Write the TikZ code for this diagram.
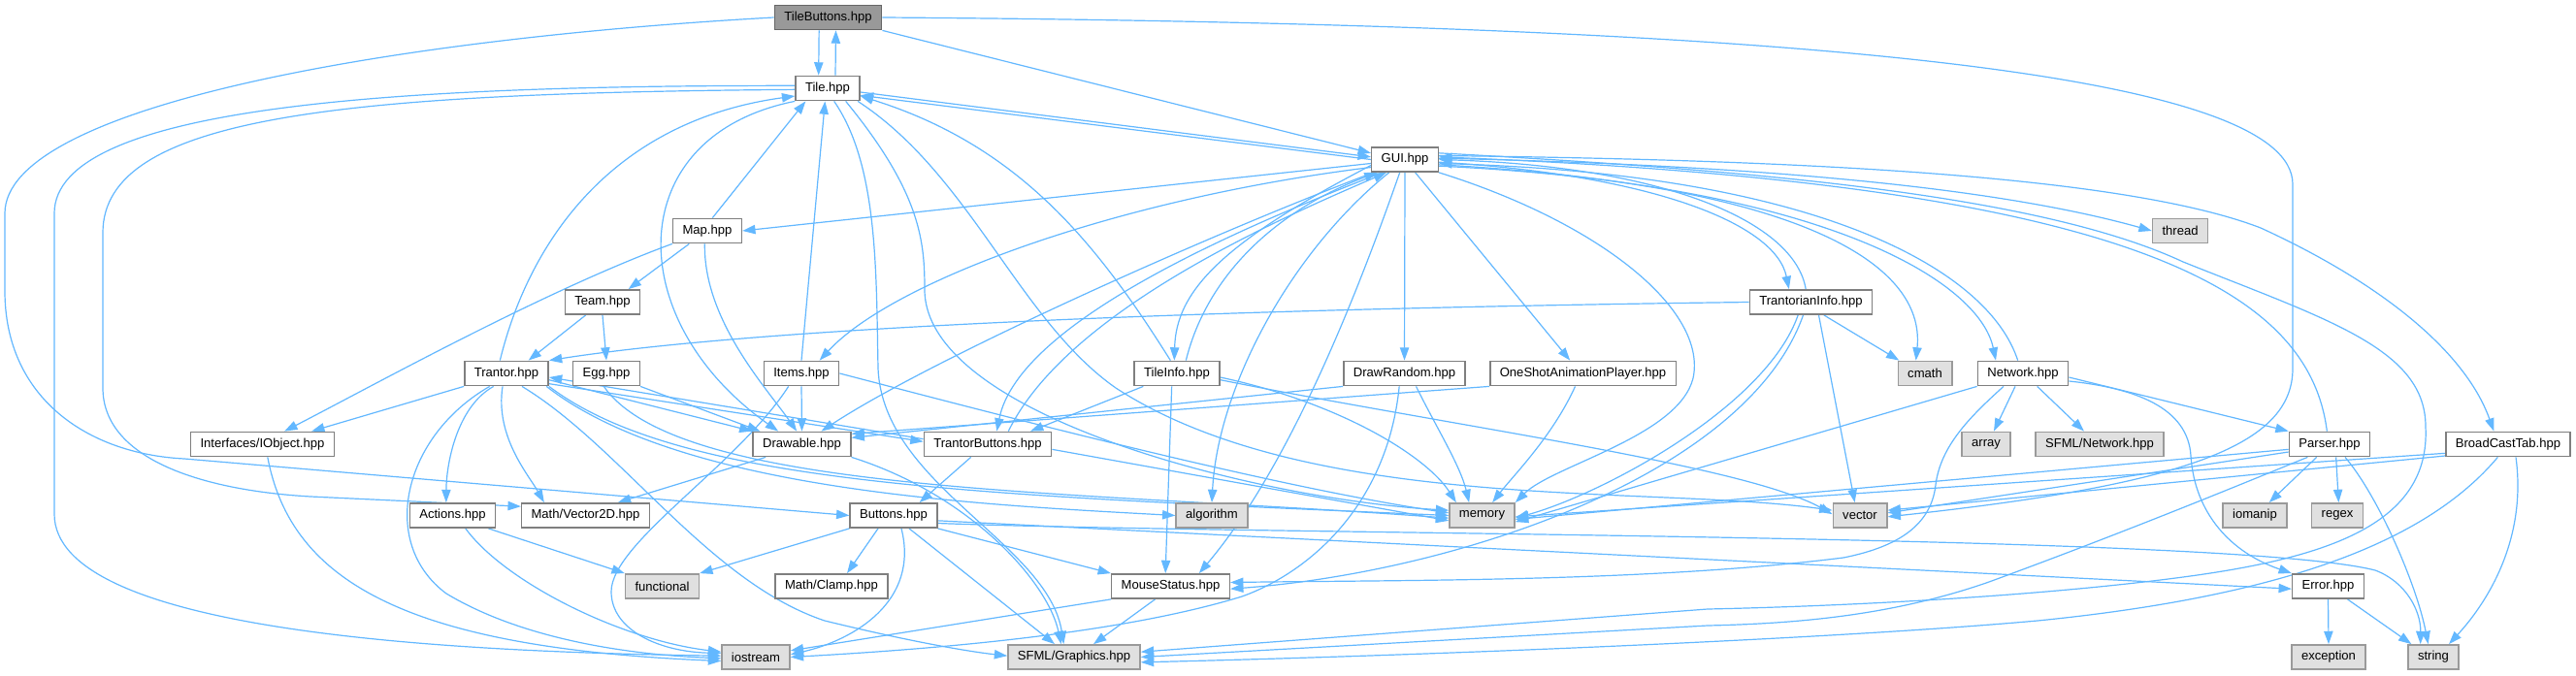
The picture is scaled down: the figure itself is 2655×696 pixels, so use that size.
\documentclass[tikz,border=0pt]{standalone}
\usepackage{fontspec}
\setmainfont{Liberation Sans}
\usetikzlibrary{arrows.meta}
\definecolor{linkblue}{HTML}{63B8FF}
\definecolor{nodegray}{HTML}{7F7F7F}
\definecolor{sysgray}{HTML}{9A9A9A}
\definecolor{sysfill}{HTML}{E0E0E0}
\definecolor{rootgray}{HTML}{666666}
\definecolor{rootfill}{HTML}{999999}
\pgfdeclarelayer{paper}
\pgfdeclarelayer{edgelayer}
\pgfsetlayers{paper,edgelayer,main}

\begin{document}
\begin{tikzpicture}[
    x=0.75pt, y=-0.75pt,
    hdr/.style={
        rectangle,
        draw=nodegray,
        fill=white,
        line width=1.1pt,
        minimum height=19pt,
        inner xsep=7.5pt,
        inner ysep=0pt,
        font=\fontsize{9.8pt}{11pt}\selectfont
    },
    syshdr/.style={hdr, draw=sysgray, fill=sysfill},
    roothdr/.style={hdr, draw=rootgray, fill=rootfill},
    dep/.style={draw=linkblue, line width=0.9pt, -{Triangle[length=10pt,width=7pt]}}
]

\begin{pgfonlayer}{paper}
\path[use as bounding box, fill=white] (0,0) rectangle (2655,696);
\end{pgfonlayer}

% headers
\node (tb) [roothdr] at (853.5,18) {TileButtons.hpp};
\node (tile) [hdr] at (853,91) {Tile.hpp};
\node (gui) [hdr] at (1448,164.5) {GUI.hpp};
\node (map) [hdr] at (729,238) {Map.hpp};
\node (thread) [syshdr] at (2247,238) {thread};
\node (team) [hdr] at (621,311.5) {Team.hpp};
\node (tinfo) [hdr] at (1866.5,311.5) {TrantorianInfo.hpp};
\node (trantor) [hdr] at (522,385) {Trantor.hpp};
\node (egg) [hdr] at (625,385) {Egg.hpp};
\node (items) [hdr] at (826,385) {Items.hpp};
\node (tileinfo) [hdr] at (1213,385) {TileInfo.hpp};
\node (drawrand) [hdr] at (1447.5,385) {DrawRandom.hpp};
\node (oneshot) [hdr] at (1631.5,385) {OneShotAnimationPlayer.hpp};
\node (cmath) [syshdr] at (1984,385) {cmath};
\node (network) [hdr] at (2085,385) {Network.hpp};
\node (iobj) [hdr] at (270.5,458) {Interfaces/IObject.hpp};
\node (drawable) [hdr] at (826.5,458) {Drawable.hpp};
\node (tbtn) [hdr] at (1018,458) {TrantorButtons.hpp};
\node (array) [syshdr] at (2047,458) {array};
\node (sfmlnet) [syshdr] at (2164,458) {SFML/Network.hpp};
\node (parser) [hdr] at (2401,458) {Parser.hpp};
\node (bct) [hdr] at (2585,458) {BroadCastTab.hpp};
\node (actions) [hdr] at (466.5,531.5) {Actions.hpp};
\node (vec) [hdr] at (603.5,531.5) {Math/Vector2D.hpp};
\node (buttons) [hdr] at (921,531.5) {Buttons.hpp};
\node (algorithm) [syshdr] at (1249,531.5) {algorithm};
\node (memory) [syshdr] at (1527.5,531.5) {memory};
\node (vector) [syshdr] at (1917,531.5) {vector};
\node (iomanip) [syshdr] at (2324,531.5) {iomanip};
\node (regex) [syshdr] at (2409,531.5) {regex};
\node (functional) [syshdr] at (682.5,604.5) {functional};
\node (clamp) [hdr] at (857,604.5) {Math/Clamp.hpp};
\node (mouse) [hdr] at (1206.5,604.5) {MouseStatus.hpp};
\node (error) [hdr] at (2399.5,604.5) {Error.hpp};
\node (iostream) [syshdr] at (779,677.5) {iostream};
\node (sfmlg) [syshdr] at (1107,677.5) {SFML/Graphics.hpp};
\node (exception) [syshdr] at (2400,677.5) {exception};
\node (string) [syshdr] at (2508,677.5) {string};

\begin{pgfonlayer}{edgelayer}
% TileButtons.hpp
\draw [dep] ([xshift=-7pt]tb.south) -- ([xshift=-7pt]tile.north);
\draw [dep] ([xshift=6pt]tile.north) -- ([xshift=6pt]tb.south);
\draw [dep] (tb.south east) -- ([yshift=5pt]gui.west);
\draw [dep] (tb.west) .. controls (400,40) and (5,110) .. (5,220) -- (5,300) .. controls (5,410) and (90,468) .. (190,473) -- (buttons.west);
\draw [dep] (tb.east) .. controls (1900,25) and (2363,80) .. (2363,190) -- (2363,380) .. controls (2363,460) and (2250,500) .. ([yshift=-1pt]vector.east);

% Tile.hpp
\draw [dep] ([yshift=-3pt]tile.east) -- ([yshift=2pt]gui.west);
\draw [dep] (gui.west) -- ([yshift=-5.5pt]tile.east);
\draw [dep] ([yshift=2pt]tile.west) .. controls (400,88) and (56,110) .. (56,220) -- (56,530) .. controls (56,650) and (450,672) .. ([yshift=1pt]iostream.west);
\draw [dep] ([yshift=-1pt]tile.west) .. controls (350,96) and (106,120) .. (106,240) -- (106,400) .. controls (106,470) and (200,505) .. (320,512) -- ([yshift=7pt]vec.west);
\draw [dep] (tile.south west) .. controls (640,140) and (640,330) .. ([xshift=20pt]drawable.north west);
\draw [dep] ([xshift=5pt]tile.south) .. controls (905,170) and (903,280) .. (905,380) .. controls (910,500) and (1080,560) .. ([xshift=-8pt]sfmlg.north);
\draw [dep] ([xshift=14pt]tile.south) .. controls (950,200) and (953,250) .. (953,300) .. controls (956,430) and (1300,515) .. ([yshift=4pt]memory.west);
\draw [dep] ([xshift=-2pt]tile.south east) .. controls (1000,180) and (1050,330) .. (1150,400) .. controls (1350,530) and (1700,500) .. ([yshift=4pt]vector.west);

% GUI.hpp
\draw [dep] ([yshift=-3pt]gui.west) -- (map.east);
\draw [dep] ([yshift=-6pt]gui.west) .. controls (1150,205) and (920,290) .. ([xshift=14pt]items.north);
\draw [dep] ([xshift=2pt]gui.south west) .. controls (1250,240) and (960,370) .. ([xshift=15pt]drawable.north);
\draw [dep] ([yshift=-4.5pt]gui.west) .. controls (1260,250) and (1212,300) .. ([xshift=-2pt]tileinfo.north);
\draw [dep] ([xshift=9pt]gui.south west) .. controls (1290,230) and (1050,330) .. ([xshift=7pt]tbtn.north);
\draw [dep] ([xshift=14pt]gui.south west) .. controls (1330,260) and (1255,400) .. (algorithm.north);
\draw [dep] ([xshift=-4pt]gui.south) .. controls (1400,300) and (1330,480) .. ([xshift=22pt]mouse.north);
\draw [dep] (gui.south) -- (drawrand.north);
\draw [dep] ([xshift=8pt]gui.south) -- ([xshift=-10pt]oneshot.north);
\draw [dep] (gui.south east) .. controls (1650,230) and (1760,320) .. (1745,390) .. controls (1730,450) and (1600,480) .. (memory.north east);
\draw [dep] ([yshift=5pt]gui.east) .. controls (1800,175) and (2100,200) .. (2250,270) .. controls (2400,330) and (2500,360) .. (2500,440) .. controls (2505,540) and (2400,575) .. (2250,595) .. controls (2100,615) and (1900,625) .. (1760,628) -- ([yshift=4pt]sfmlg.east);
\draw [dep] ([yshift=-2pt]gui.east) .. controls (1700,180) and (1830,230) .. ([xshift=-17pt]tinfo.north);
\draw [dep] ([yshift=-4pt]gui.east) .. controls (1850,190) and (1985,270) .. ([xshift=-7pt]cmath.north);
\draw [dep] ([yshift=-5pt]gui.east) .. controls (1880,190) and (2040,290) .. ([xshift=-21pt]network.north);
\draw [dep] ([yshift=1pt]gui.east) .. controls (1900,172) and (2100,205) .. (thread.west);
\draw [dep] ([yshift=3pt]gui.east) .. controls (1900,165) and (2200,185) .. (2330,235) .. controls (2450,290) and (2540,360) .. ([xshift=-11pt]bct.north);

% Map.hpp, Team.hpp
\draw [dep] ([xshift=4pt]map.north) -- ([xshift=-17pt]tile.south);
\draw [dep] ([xshift=-14pt]map.south) -- ([xshift=20pt]team.north);
\draw [dep] (map.south west) .. controls (560,300) and (380,400) .. ([xshift=17pt]iobj.north);
\draw [dep] ([xshift=-2pt]map.south) .. controls (725,330) and (790,400) .. ([xshift=-4pt]drawable.north);
\draw [dep] ([xshift=-13pt]team.south) -- ([xshift=17pt]trantor.north);
\draw [dep] (team.south) -- (egg.north);

% Trantor.hpp
\draw [dep] ([xshift=-5pt]trantor.north) .. controls (545,250) and (630,125) .. ([yshift=-6pt]tile.west);
\draw [dep] (trantor.south west) -- ([xshift=38pt]iobj.north);
\draw [dep] ([xshift=-10pt]trantor.south) .. controls (470,420) and (460,480) .. ([xshift=-5pt]actions.north);
\draw [dep] ([xshift=-13pt]trantor.south) .. controls (415,450) and (390,560) .. (460,612) .. controls (540,660) and (650,675) .. ([yshift=-1pt]iostream.west);
\draw [dep] ([xshift=-3pt]trantor.south) .. controls (510,450) and (545,490) .. ([xshift=-32pt]vec.north);
\draw [dep] ([xshift=12pt]trantor.south) .. controls (640,460) and (730,600) .. (850,640) .. controls (940,662) and (1000,672) .. ([yshift=1pt]sfmlg.west);
\draw [dep] ([yshift=-5pt]trantor.east) -- (drawable.north west);
\draw [dep] ([yshift=-8pt]trantor.east) -- ([yshift=2pt]tbtn.west);
\draw [dep] (trantor.south east) .. controls (700,500) and (1000,510) .. (memory.west);
\draw [dep] ([xshift=-2pt]trantor.south east) .. controls (700,505) and (1000,520) .. (algorithm.west);

% Egg.hpp, Items.hpp, Drawable.hpp
\draw [dep] (egg.south east) -- ([xshift=6pt]drawable.north west);
\draw [dep] ([xshift=-2pt]egg.south) .. controls (700,510) and (1100,505) .. ([yshift=-2pt]memory.west);
\draw [dep] (items.north) -- ([xshift=-2pt]tile.south);
\draw [dep] (items.south) -- (drawable.north);
\draw [dep] ([xshift=-10pt]items.south) .. controls (760,480) and (630,560) .. (630,610) .. controls (630,650) and (680,672) .. ([yshift=3pt]iostream.west);
\draw [dep] (items.east) .. controls (1000,420) and (1300,500) .. ([yshift=2pt]memory.west);
\draw [dep] ([xshift=-28pt]drawable.south) -- ([xshift=25pt]vec.north);
\draw [dep] (drawable.south east) .. controls (1000,510) and (1080,600) .. ([xshift=-10pt]sfmlg.north);

% TileInfo.hpp, TrantorButtons.hpp
\draw [dep] ([xshift=-5pt]tileinfo.north) .. controls (1130,250) and (1050,150) .. ([yshift=-6pt]tile.east);
\draw [dep] ([xshift=7pt]tileinfo.north) .. controls (1245,280) and (1320,215) .. ([xshift=5pt]gui.south west);
\draw [dep] ([xshift=-26pt]tileinfo.south) -- ([xshift=33pt]tbtn.north);
\draw [dep] ([xshift=-4pt]tileinfo.south) -- ([xshift=-4pt]mouse.north);
\draw [dep] ([yshift=-3pt]tileinfo.east) .. controls (1380,415) and (1470,470) .. ([xshift=-20pt]memory.north);
\draw [dep] ([yshift=-5pt]tileinfo.east) .. controls (1500,440) and (1800,480) .. ([yshift=1pt]vector.west);
\draw [dep] ([xshift=16pt]tbtn.north) .. controls (1100,320) and (1320,225) .. ([xshift=12pt]gui.south west);
\draw [dep] ([yshift=4pt]tbtn.west) -- ([yshift=-3pt]trantor.east);
\draw [dep] ([xshift=-13pt]tbtn.south) -- ([xshift=20pt]buttons.north);
\draw [dep] ([yshift=-4pt]tbtn.east) -- ([yshift=-4pt]memory.west);

% DrawRandom.hpp, OneShotAnimationPlayer.hpp
\draw [dep] (drawrand.south west) -- ([yshift=5pt]drawable.east);
\draw [dep] ([xshift=9pt]drawrand.south) .. controls (1480,440) and (1505,480) .. ([xshift=-10pt]memory.north);
\draw [dep] ([xshift=-4pt]drawrand.south) .. controls (1430,520) and (1350,590) .. (1280,615) .. controls (1150,655) and (950,670) .. (iostream.east);
\draw [dep] (oneshot.south west) -- ([yshift=8pt]drawable.east);
\draw [dep] ([xshift=-6pt]oneshot.south) .. controls (1600,450) and (1560,490) .. ([xshift=8pt]memory.north);

% TrantorianInfo.hpp
\draw [dep] ([xshift=-4pt]tinfo.north) .. controls (1850,230) and (1720,172) .. (gui.east);
\draw [dep] (tinfo.west) .. controls (1300,318) and (800,335) .. (trantor.north east);
\draw [dep] ([xshift=10pt]tinfo.south) -- ([xshift=-20pt]cmath.north);
\draw [dep] ([xshift=-10pt]tinfo.south) .. controls (1820,420) and (1650,510) .. ([yshift=-2pt]memory.east);
\draw [dep] ([xshift=-6pt]tinfo.south) .. controls (1800,490) and (1500,590) .. ([yshift=-2pt]mouse.east);
\draw [dep] ([xshift=6pt]tinfo.south) -- ([xshift=-4pt]vector.north);

% Network.hpp
\draw [dep] ([xshift=-4pt]network.north) .. controls (2050,280) and (1880,180) .. ([yshift=-3pt]gui.east);
\draw [dep] ([xshift=-6pt]network.south) -- ([xshift=6pt]array.north);
\draw [dep] ([xshift=11pt]network.south) -- ([xshift=-12pt]sfmlnet.north);
\draw [dep] ([yshift=-3pt]network.east) -- (parser.north west);
\draw [dep] ([yshift=-6pt]network.east) .. controls (2200,400) and (2255,420) .. (2258,470) .. controls (2262,530) and (2300,570) .. (error.north west);
\draw [dep] (network.south west) -- ([yshift=-5pt]memory.east);
\draw [dep] ([xshift=-15pt]network.south) .. controls (2030,430) and (2000,460) .. (1995,500) .. controls (1990,545) and (1950,565) .. (1900,575) .. controls (1700,600) and (1450,598) .. ([yshift=3pt]mouse.east);

% Parser.hpp, BroadCastTab.hpp
\draw [dep] ([xshift=-2pt]parser.north) .. controls (2380,300) and (2200,190) .. ([yshift=2pt]gui.east);
\draw [dep] ([xshift=-10pt]parser.south) -- ([xshift=11pt]iomanip.north);
\draw [dep] ([xshift=5pt]parser.south) -- ([xshift=1pt]regex.north);
\draw [dep] ([xshift=12pt]parser.south) .. controls (2450,510) and (2490,600) .. ([xshift=-4pt]string.north);
\draw [dep] ([yshift=-4pt]parser.west) -- ([yshift=-3pt]memory.east);
\draw [dep] ([yshift=-6pt]parser.west) -- ([yshift=2pt]vector.east);
\draw [dep] ([xshift=-17pt]parser.south) .. controls (2320,495) and (2200,545) .. (2050,600) .. controls (1950,635) and (1850,643) .. (1760,645) -- (sfmlg.east);
\draw [dep] ([yshift=-7pt]bct.west) -- ([yshift=-1pt]memory.east);
\draw [dep] ([yshift=-9pt]bct.west) -- ([yshift=4pt]vector.east);
\draw [dep] ([xshift=6pt]bct.south) .. controls (2605,560) and (2560,625) .. ([xshift=12pt]string.north);
\draw [dep] ([xshift=-8pt]bct.south) .. controls (2500,560) and (2350,615) .. (2100,640) .. controls (1900,658) and (1500,675) .. ([yshift=-4pt]sfmlg.east);

% Buttons.hpp and the rest
\draw [dep] (buttons.south west) -- (functional.north east);
\draw [dep] ([xshift=-12pt]buttons.south) -- ([xshift=12pt]clamp.north);
\draw [dep] (buttons.south east) -- (mouse.north west);
\draw [dep] ([xshift=12pt]buttons.south) -- ([xshift=-15pt]sfmlg.north);
\draw [dep] ([xshift=6pt]buttons.south) .. controls (948,620) and (880,660) .. ([yshift=2pt]iostream.east);
\draw [dep] ([yshift=-4pt]buttons.east) -- ([yshift=-2pt]error.west);
\draw [dep] ([yshift=-6pt]buttons.east) .. controls (1300,552) and (2300,550) .. (2448,588) .. controls (2480,600) and (2495,630) .. ([xshift=-10pt]string.north);
\draw [dep] ([xshift=-6pt]actions.south east) -- (functional.north west);
\draw [dep] ([xshift=10pt]actions.south) .. controls (520,600) and (640,660) .. ([yshift=4pt]iostream.west);
\draw [dep] ([xshift=4pt]iobj.south) .. controls (300,600) and (420,668) .. ([yshift=-3pt]iostream.west);
\draw [dep] (mouse.south west) -- ([yshift=5pt]iostream.east);
\draw [dep] ([xshift=-12pt]mouse.south) -- ([xshift=15pt]sfmlg.north);
\draw [dep] (error.south) -- (exception.north);
\draw [dep] ([xshift=15pt]error.south) -- ([xshift=-17pt]string.north);
\end{pgfonlayer}

\end{tikzpicture}
\end{document}
